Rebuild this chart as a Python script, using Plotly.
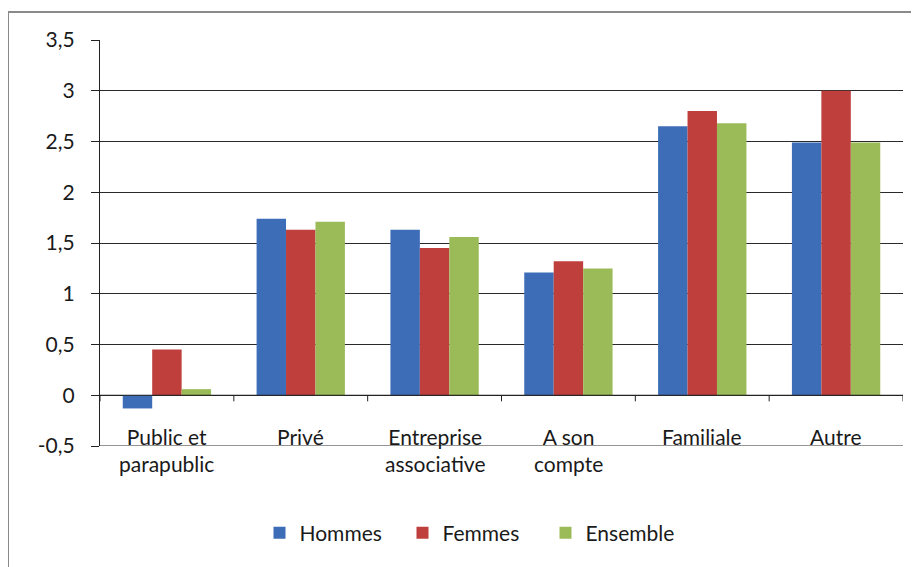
import plotly.graph_objects as go

categories = ["Public et<br>parapublic", "Privé", "Entreprise<br>associative", "A son<br>compte", "Familiale", "Autre"]
hommes = [-0.13, 1.74, 1.63, 1.21, 2.65, 2.49]
femmes = [0.45, 1.63, 1.45, 1.32, 2.80, 3.00]
ensemble = [0.06, 1.71, 1.56, 1.25, 2.68, 2.49]
y_ticks = [-0.5, 0, 0.5, 1, 1.5, 2, 2.5, 3, 3.5]
y_tick_text = ["-0,5", "0", "0,5", "1", "1,5", "2", "2,5", "3", "3,5"]

FONT = "Lato"
TXT = "#1a1a1a"
FS = 21

fig = go.Figure()
for name, vals, col in [("Hommes", hommes, "#3E6DB8"), ("Femmes", femmes, "#BE3F3C"), ("Ensemble", ensemble, "#9BBB59")]:
    fig.add_trace(go.Bar(name=name, x=categories, y=vals, marker=dict(color=col, line=dict(width=0))))

PH = 406.0  # plot height in px
PW = 803.0  # plot width in px

annotations = []
for c in categories:
    annotations.append(dict(x=c, xref="x", y=24 / PH, yref="paper", text=c, showarrow=False,
                            yanchor="top", xanchor="center", font=dict(family=FONT, size=FS, color=TXT)))

shapes = []
# bottom gridline at -0.5
shapes.append(dict(type="line", xref="paper", yref="y", x0=0, x1=1, y0=y_ticks[0], y1=y_ticks[0],
                   line=dict(color="#2a2a2a", width=1), layer="below"))
# x axis line at zero with tick marks at category boundaries
shapes.append(dict(type="line", xref="x", yref="y", x0=-0.5, x1=5.5, y0=0, y1=0, line=dict(color="#222", width=1.2)))
for i in range(7):
    shapes.append(dict(type="line", xref="x", yref="y", x0=i - 0.5, x1=i - 0.5, y0=0, y1=-0.06,
                       line=dict(color="#222", width=1)))
# outer chart frame
shapes.append(dict(type="rect", xref="paper", yref="paper",
                   x0=-92 / PW, x1=1 + 30 / PW, y0=-135 / PH, y1=1 + 28 / PH,
                   line=dict(color="#8a8a8a", width=2), fillcolor="rgba(0,0,0,0)", layer="below"))

fig.update_layout(
    width=911, height=559,
    margin=dict(l=92, r=16, t=32, b=121),
    paper_bgcolor="white", plot_bgcolor="white",
    barmode="group", bargap=0.34, bargroupgap=0,
    font=dict(family=FONT, size=FS, color=TXT),
    showlegend=True,
    legend=dict(orientation="h", x=(474 - 100) / PW, xanchor="center", y=-(533 - 446) / PH, yanchor="middle",
                font=dict(family=FONT, size=FS, color=TXT), itemwidth=30, entrywidth=98,
                traceorder="normal"),
    xaxis=dict(showticklabels=False, showgrid=False, ticks="", showline=False, zeroline=False,
               range=[-0.5, 5.5]),
    yaxis=dict(range=[-0.5, 3.5], tickvals=y_ticks, ticktext=y_tick_text, showgrid=True,
               gridcolor="#2a2a2a", gridwidth=1,
               zeroline=False, showline=True, linecolor="#222", linewidth=1.2,
               ticks="outside", ticklen=8, tickcolor="#222", ticklabelstandoff=12,
               tickfont=dict(family=FONT, size=FS, color=TXT)),
    annotations=annotations,
    shapes=shapes,
)

fig.write_html("out.html")
